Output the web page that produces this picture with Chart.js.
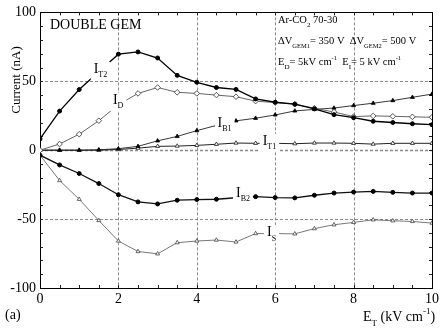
<!DOCTYPE html>
<html>
<head>
  <meta charset="utf-8">
  <title>Double GEM currents</title>
  <script src="https://cdn.jsdelivr.net/npm/chart.js"></script>
  <style>
    html, body { margin: 0; padding: 0; background: #fff; }
    canvas { display: block; }
  </style>
</head>
<body>
  <canvas id="gemChart" width="442" height="333"></canvas>

  <script>
    // transfer field E_T (kV/cm), one point every 0.5
    const transferField = [0, 0.5, 1, 1.5, 2, 2.5, 3, 3.5, 4, 4.5, 5, 5.5, 6, 6.5, 7, 7.5, 8, 8.5, 9, 9.5, 10];

    // electrode currents (nA)
    const currentT2 = [8.2, 28.4, 44, 57, 69.7, 71.3, 66.9, 54.3, 49.3, 45.5, 44.1, 37.2, 34.8, 33.4, 30, 25.8, 23.6, 21, 20.1, 19.2, 18.5];
    const currentD  = [0, 4.5, 11.6, 21.4, 33, 41.2, 45.5, 42, 41.2, 40, 38.8, 35.6, 34.6, 33.4, 30.5, 27.7, 24.4, 24.9, 24.6, 24.2, 23.9];
    const currentB1 = [0, 0, 0, 0.3, 1.1, 2.8, 6.8, 10, 14.2, 18, 21.3, 23.2, 25.6, 28.5, 29.6, 30.6, 32.4, 34.1, 36, 38.4, 40.7];
    const currentT1 = [0, 0, 0, 0, 0.5, 1.5, 2.8, 3, 3.5, 4.3, 5.2, 5, 5, 4.7, 5.2, 5.2, 5, 4.4, 5, 5, 5];
    const currentB2 = [-3.6, -10.7, -16.9, -24.2, -32.3, -37.5, -39, -36.3, -35.8, -35.6, -34.5, -33.7, -34.4, -34.6, -32.7, -31.1, -30.4, -29.9, -30.6, -31.1, -31.1];
    const currentS  = [-3.6, -22, -35.6, -51, -65.9, -73.5, -75.2, -67.1, -65.9, -65.2, -66.6, -60.5, -60.5, -60.7, -56.9, -54.1, -52.4, -50.5, -51.2, -51.7, -52.9];

    // axis ticks
    const xTicks = [0, 2, 4, 6, 8, 10];
    const yTicks = [-100, -50, 0, 50, 100];
    const xGrid = [2, 4, 6, 8];
    const yGrid = [-50, 0, 50];

    // curve labels: subscript text and where the "I" sits (E_T, nA of baseline)
    const curveLabels = [
      { sub: 'T2', x: 1.37, y: 56.2 },
      { sub: 'D',  x: 1.86, y: 33.6 },
      { sub: 'B1', x: 4.53, y: 17.1 },
      { sub: 'T1', x: 5.68, y: 3.9 },
      { sub: 'B2', x: 5.0,  y: -33.9 },
      { sub: 'S',  x: 5.79, y: -62.4 }
    ];

    const SERIF = "'Liberation Serif', 'DejaVu Serif', serif";

    const toPoints = values => values.map((v, i) => ({ x: transferField[i], y: v }));

    function series(values, style) {
      return Object.assign({
        data: toPoints(values),
        showLine: true,
        tension: 0,
        pointHoverRadius: 0
      }, style);
    }

    // draws a run of text pieces: [text, 'n' | 'sub' | 'sup', size]
    function drawRich(ctx, x, y, parts) {
      ctx.textBaseline = 'alphabetic';
      ctx.textAlign = 'left';
      let cx = x;
      parts.forEach(([text, kind, size]) => {
        ctx.font = size + 'px ' + SERIF;
        let dy = 0;
        if (kind === 'sub') dy = size * 0.55;
        if (kind === 'sup') dy = -size * 0.75;
        ctx.fillText(text, cx, y + dy);
        cx += ctx.measureText(text).width;
      });
      return cx - x;
    }

    const decorations = {
      id: 'decorations',
      beforeDatasetsDraw(chart) {
        const { ctx, chartArea: a, scales: { x, y } } = chart;
        ctx.save();

        // dashed reference lines
        ctx.strokeStyle = '#8a8a8a';
        ctx.setLineDash([3, 2]);
        ctx.lineWidth = 1;
        xGrid.forEach(v => {
          const px = Math.round(x.getPixelForValue(v)) + 0.5;
          ctx.beginPath(); ctx.moveTo(px, a.top); ctx.lineTo(px, a.bottom); ctx.stroke();
        });
        yGrid.forEach(v => {
          const py = Math.round(y.getPixelForValue(v)) + 0.5;
          ctx.lineWidth = v === 0 ? 1.6 : 1;
          ctx.beginPath(); ctx.moveTo(a.left, py); ctx.lineTo(a.right, py); ctx.stroke();
        });
        ctx.setLineDash([]);

        // frame
        ctx.strokeStyle = '#000';
        ctx.lineWidth = 1;
        ctx.strokeRect(Math.round(a.left) + 0.5, Math.round(a.top) + 0.5,
          Math.round(a.right - a.left), Math.round(a.bottom - a.top));

        // small inward ticks on all four sides
        ctx.strokeStyle = '#222';
        for (let v = 0.5; v < 10; v += 0.5) {
          const px = Math.round(x.getPixelForValue(v)) + 0.5;
          ctx.beginPath();
          ctx.moveTo(px, a.bottom); ctx.lineTo(px, a.bottom - 3);
          ctx.moveTo(px, a.top); ctx.lineTo(px, a.top + 3);
          ctx.stroke();
        }
        for (let v = -90; v < 100; v += 10) {
          const py = Math.round(y.getPixelForValue(v)) + 0.5;
          ctx.beginPath();
          ctx.moveTo(a.left, py); ctx.lineTo(a.left + 3, py);
          ctx.moveTo(a.right, py); ctx.lineTo(a.right - 3, py);
          ctx.stroke();
        }
        ctx.restore();
      },
      afterDatasetsDraw(chart) {
        const { ctx, scales: { x, y } } = chart;
        ctx.save();
        ctx.fillStyle = '#000';

        // curve labels on white patches
        curveLabels.forEach(l => {
          const px = x.getPixelForValue(l.x);
          const py = y.getPixelForValue(l.y);
          ctx.font = '14px ' + SERIF;
          const w1 = ctx.measureText('I').width;
          ctx.font = '8px ' + SERIF;
          const w2 = ctx.measureText(l.sub).width;
          ctx.fillStyle = '#fff';
          ctx.fillRect(px - 3, py - 11, w1 + w2 + 6, 18);
          ctx.fillStyle = '#000';
          drawRich(ctx, px, py, [['I', 'n', 14], [l.sub, 'sub', 8]]);
        });

        // headline
        ctx.font = '14px ' + SERIF;
        ctx.fillText('DOUBLE GEM', 50, 29);

        // operating conditions
        drawRich(ctx, 278, 23, [['Ar-CO', 'n', 10.5], ['2', 'sub', 7], [' 70-30', 'n', 10.5]]);
        drawRich(ctx, 278, 44, [['\u0394V', 'n', 10.5], ['GEM1', 'sub', 6.5], ['= 350 V  \u0394V', 'n', 10.5],
          ['GEM2', 'sub', 6.5], ['= 500 V', 'n', 10.5]]);
        drawRich(ctx, 278, 65, [['E', 'n', 10.5], ['D', 'sub', 7], ['= 5kV cm', 'n', 10.5], ['-1', 'sup', 6.5],
          ['  E', 'n', 10.5], ['I', 'sub', 7], ['= 5 kV cm', 'n', 10.5], ['-1', 'sup', 6.5]]);

        // axis titles
        drawRich(ctx, 363, 321, [['E', 'n', 14], ['T', 'sub', 9], [' (kV cm', 'n', 14], ['-1', 'sup', 9], [')', 'n', 14]]);
        ctx.save();
        ctx.translate(20, 80);
        ctx.rotate(-Math.PI / 2);
        ctx.font = '13px ' + SERIF;
        ctx.textAlign = 'center';
        ctx.textBaseline = 'alphabetic';
        ctx.fillText('Current (nA)', 0, 0);
        ctx.restore();

        ctx.font = '14px ' + SERIF;
        ctx.textAlign = 'left';
        ctx.fillText('(a)', 5, 319);
        ctx.restore();
      }
    };

    new Chart(document.getElementById('gemChart'), {
      type: 'scatter',
      data: {
        datasets: [
          series(currentT2, { borderColor: '#000', borderWidth: 1.3, pointStyle: 'circle', pointRadius: 2, pointBackgroundColor: '#000', pointBorderColor: '#000', pointBorderWidth: 1 }),
          series(currentD,  { borderColor: '#555', borderWidth: 0.9, pointStyle: 'rectRot', pointRadius: 2.8, pointBackgroundColor: '#fff', pointBorderColor: '#444', pointBorderWidth: 0.9 }),
          series(currentB1, { borderColor: '#222', borderWidth: 0.9, pointStyle: 'triangle', pointRadius: 2.3, pointBackgroundColor: '#000', pointBorderColor: '#000', pointBorderWidth: 0.8 }),
          series(currentT1, { borderColor: '#222', borderWidth: 1, pointStyle: 'triangle', pointRadius: 2.3, pointBackgroundColor: '#fff', pointBorderColor: '#222', pointBorderWidth: 0.8 }),
          series(currentB2, { borderColor: '#111', borderWidth: 1.3, pointStyle: 'circle', pointRadius: 2, pointBackgroundColor: '#000', pointBorderColor: '#000', pointBorderWidth: 1 }),
          series(currentS,  { borderColor: '#555', borderWidth: 0.8, pointStyle: 'triangle', pointRadius: 2.3, pointBackgroundColor: '#fff', pointBorderColor: '#444', pointBorderWidth: 0.8 })
        ]
      },
      options: {
        responsive: false,
        animation: false,
        devicePixelRatio: 1,
        layout: { padding: { top: 7, right: 8, left: 0, bottom: 0 } },
        scales: {
          x: {
            type: 'linear',
            min: 0,
            max: 10,
            afterFit: s => { s.height = 45; },
            afterBuildTicks: s => { s.ticks = xTicks.map(v => ({ value: v })); },
            ticks: { color: '#000', font: { family: SERIF, size: 14 }, padding: 3, maxRotation: 0, callback: v => String(v) },
            grid: { display: false, drawTicks: false },
            border: { display: false }
          },
          y: {
            min: -100,
            max: 100,
            afterFit: s => { s.width = 40; },
            afterBuildTicks: s => { s.ticks = yTicks.map(v => ({ value: v })); },
            ticks: { color: '#000', font: { family: SERIF, size: 14 }, padding: 4, callback: v => String(v) },
            grid: { display: false, drawTicks: false },
            border: { display: false }
          }
        },
        plugins: {
          legend: { display: false },
          tooltip: { enabled: false }
        }
      },
      plugins: [decorations]
    });
  </script>
</body>
</html>
